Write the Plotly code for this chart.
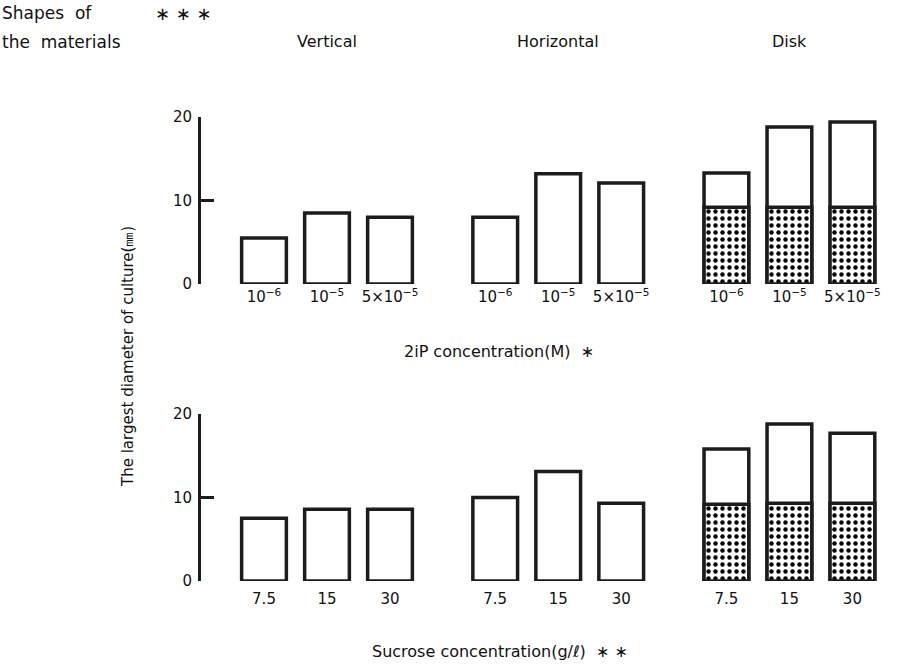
import plotly.graph_objects as go

# ---------------- data ----------------
shape_groups = ["Vertical", "Horizontal", "Disk"]
tick_2ip = ["10<sup>−6</sup>", "10<sup>−5</sup>", "5×10<sup>−5</sup>"]
tick_sucrose = ["7.5", "15", "30"]

# largest diameter of culture (mm), 2iP experiment: Vertical, Horizontal, Disk
diam_2ip = [5.5, 8.5, 8.0, 8.0, 13.2, 12.1, 13.3, 18.8, 19.4]
# dotted (lower) part of Disk bars
disk_dot_2ip = [9.2, 9.2, 9.2]

# sucrose experiment
diam_sucrose = [7.5, 8.6, 8.6, 10.0, 13.1, 9.3, 15.8, 18.8, 17.7]
disk_dot_sucrose = [9.2, 9.3, 9.3]

y_ticks = [0, 10, 20]

# ---------------- layout helpers ----------------
W, H = 898, 670
GROUP_STRIDE = 3.67
pos = [g * GROUP_STRIDE + i for g in range(3) for i in range(3)]
disk_pos = pos[6:]
BAR_W = 0.71
LINE_C = "#1c1c1c"
FONT = "DejaVu Sans"
FS = 17

def px_y(p):
    return 1 - p / H

x_dom = [201 / W, 890 / W]
x_rng = [-1.0, (890 - 201) / 63 - 1.0]
top_dom = [px_y(284), px_y(117)]
bot_dom = [px_y(581), px_y(414)]

fig = go.Figure()

def add_panel(xa, ya, totals, dots):
    fig.add_trace(go.Bar(
        x=pos, y=totals, width=BAR_W, xaxis=xa, yaxis=ya,
        marker=dict(color="white", line=dict(color=LINE_C, width=3.5)),
        cliponaxis=False, showlegend=False, hoverinfo="skip"))
    fig.add_trace(go.Bar(
        x=disk_pos, y=dots, width=BAR_W, xaxis=xa, yaxis=ya,
        marker=dict(color="white", line=dict(color=LINE_C, width=3.5),
                    pattern=dict(shape=".", fgcolor="black", bgcolor="white",
                                 size=7, solidity=0.32, fillmode="replace")),
        cliponaxis=False, showlegend=False, hoverinfo="skip"))

add_panel("x", "y", diam_2ip, disk_dot_2ip)
add_panel("x2", "y2", diam_sucrose, disk_dot_sucrose)

yax = dict(range=[0, 20], tickvals=y_ticks, ticks="inside", ticklen=13, tickwidth=3,
           tickcolor=LINE_C, showline=True, linewidth=3, linecolor=LINE_C,
           showgrid=False, zeroline=False, automargin=False,
           tickfont=dict(family=FONT, size=15, color="#111"), ticklabelstandoff=3)
xax = dict(range=x_rng, domain=x_dom, showline=False, ticks="", showgrid=False,
           zeroline=False, automargin=False, tickvals=pos,
           tickfont=dict(family=FONT, size=15, color="#111"))

fig.update_layout(
    width=W, height=H, margin=dict(l=0, r=0, t=0, b=0, autoexpand=False),
    paper_bgcolor="white", plot_bgcolor="white", barmode="overlay",
    font=dict(family=FONT, size=FS, color="#111"),
    xaxis=dict(xax, anchor="y", ticktext=tick_2ip * 3, ticklabelstandoff=2),
    yaxis=dict(yax, domain=top_dom, anchor="x"),
    xaxis2=dict(xax, anchor="y2", ticktext=tick_sucrose * 3, ticklabelstandoff=7),
    yaxis2=dict(yax, domain=bot_dom, anchor="x2"),
)

ann = []
def txt(text, x, y, xref="paper", xanchor="left", size=FS, **kw):
    ann.append(dict(text=text, x=x, y=y, xref=xref, yref="paper", xanchor=xanchor,
                    yanchor="middle", showarrow=False,
                    font=dict(family=FONT, size=size, color="#111"), **kw))

txt("Shapes  of", 0, px_y(13))
txt("the  materials", 0, px_y(42))
txt("∗ ∗ ∗", 153 / W, px_y(14), size=18)
for g, name in enumerate(shape_groups):
    txt(name, pos[g * 3 + 1], px_y(42), xref="x", xanchor="center", size=16)
txt("2iP concentration(M)  ∗", 499 / W, px_y(351), xanchor="center", size=16)
txt("Sucrose concentration(g/ℓ)  ∗ ∗", 500 / W, px_y(651), xanchor="center", size=16)
txt("The largest diameter of culture(㎜)", 128 / W, px_y(357), xanchor="center",
    size=15, textangle=-90)
fig.update_layout(annotations=ann)

fig.write_html("out.html", config={"displayModeBar": False},
               post_script="document.body.style.margin='0';")
